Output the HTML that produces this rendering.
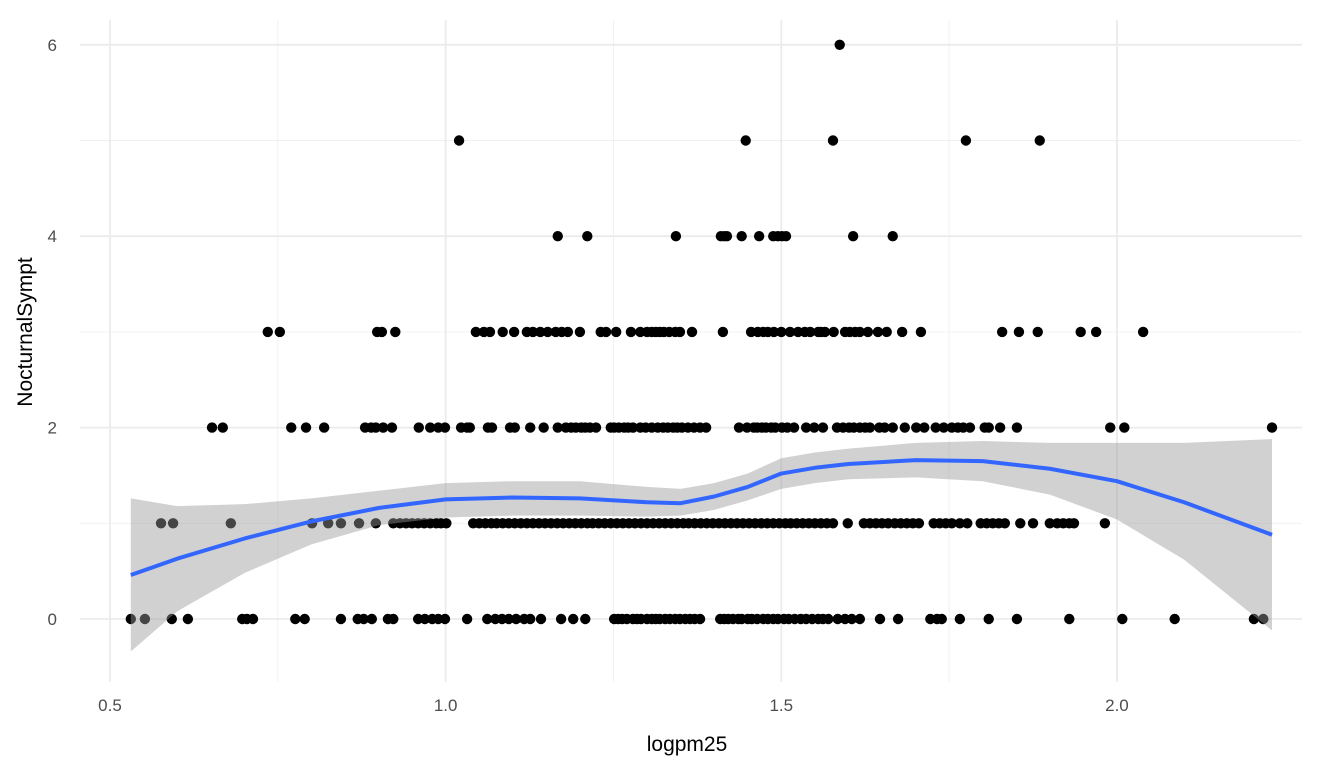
<!DOCTYPE html>
<html><head><meta charset="utf-8"><style>
body{margin:0;background:#fff}
svg{display:block;font-family:"Liberation Sans",sans-serif}
</style></head><body>
<svg id="chart" width="1344" height="768" viewBox="0 0 1344 768">
<g id="grid"></g>
<g id="pts"></g>
<g id="smooth"></g>
<g id="axes"></g>
<text x="687" y="751" font-size="21" text-anchor="middle" fill="#000">logpm25</text>
<text transform="translate(32,332) rotate(-90)" font-size="21" text-anchor="middle" fill="#000">NocturnalSympt</text>
</svg>
<script>
const xTicks=[0.5,1.0,1.5,2.0];
const xTickLabels=["0.5","1.0","1.5","2.0"];
const yTicks=[0,2,4,6];
const yTickLabels=["0","2","4","6"];
const row0=[0.531,0.552,0.592,0.616,0.697,0.704,0.713,0.776,0.790,0.844,0.869,0.878,0.890,0.914,0.922,0.959,0.969,0.980,0.989,0.999,1.032,1.062,1.074,1.084,1.094,1.105,1.117,1.126,1.142,1.172,1.190,1.208,1.251,1.257,1.263,1.270,1.279,1.285,1.291,1.300,1.307,1.313,1.319,1.327,1.334,1.342,1.349,1.357,1.364,1.371,1.379,1.409,1.415,1.421,1.428,1.436,1.441,1.450,1.456,1.464,1.473,1.480,1.488,1.495,1.504,1.511,1.520,1.529,1.537,1.546,1.555,1.562,1.570,1.584,1.595,1.605,1.617,1.647,1.674,1.722,1.732,1.739,1.766,1.809,1.851,1.929,2.008,2.086,2.204,2.218];
const row1=[0.576,0.594,0.680,0.801,0.825,0.844,0.871,0.896,0.922,0.932,0.941,0.950,0.959,0.968,0.977,0.986,0.993,1.001,1.041,1.050,1.059,1.068,1.076,1.085,1.094,1.103,1.112,1.121,1.130,1.139,1.148,1.157,1.166,1.175,1.184,1.193,1.202,1.211,1.219,1.228,1.237,1.246,1.255,1.264,1.273,1.282,1.291,1.300,1.309,1.318,1.327,1.336,1.345,1.354,1.362,1.371,1.380,1.389,1.398,1.407,1.416,1.425,1.434,1.443,1.452,1.461,1.470,1.479,1.488,1.497,1.506,1.514,1.523,1.532,1.541,1.550,1.559,1.568,1.577,1.599,1.623,1.632,1.641,1.650,1.659,1.669,1.678,1.687,1.696,1.705,1.727,1.736,1.745,1.754,1.766,1.777,1.797,1.806,1.815,1.824,1.833,1.856,1.875,1.900,1.911,1.920,1.929,1.936,1.982];
const row2=[0.652,0.668,0.770,0.792,0.819,0.880,0.889,0.896,0.907,0.920,0.960,0.977,0.989,0.999,1.023,1.032,1.036,1.063,1.069,1.096,1.103,1.126,1.146,1.167,1.179,1.187,1.194,1.202,1.208,1.215,1.224,1.246,1.251,1.258,1.266,1.272,1.279,1.290,1.298,1.307,1.316,1.324,1.331,1.339,1.345,1.352,1.361,1.370,1.379,1.388,1.437,1.449,1.459,1.464,1.471,1.477,1.485,1.491,1.501,1.509,1.519,1.537,1.549,1.562,1.583,1.592,1.601,1.608,1.617,1.625,1.632,1.646,1.654,1.666,1.684,1.701,1.713,1.730,1.742,1.754,1.763,1.771,1.781,1.803,1.809,1.826,1.851,1.990,2.011,2.231];
const row3=[0.735,0.753,0.898,0.905,0.925,1.045,1.057,1.066,1.085,1.102,1.121,1.130,1.141,1.152,1.164,1.173,1.182,1.200,1.231,1.239,1.254,1.276,1.290,1.300,1.307,1.313,1.319,1.325,1.333,1.342,1.349,1.367,1.413,1.455,1.465,1.473,1.480,1.489,1.500,1.513,1.525,1.535,1.543,1.555,1.559,1.565,1.578,1.595,1.602,1.610,1.617,1.629,1.644,1.657,1.680,1.708,1.829,1.854,1.882,1.946,1.969,2.039];
const row4=[1.167,1.211,1.343,1.410,1.415,1.419,1.441,1.467,1.488,1.495,1.501,1.507,1.607,1.666];
const row5=[1.020,1.447,1.577,1.775,1.885];
const row6=[1.587];
const rows=[row0,row1,row2,row3,row4,row5,row6];
const fitX=[0.531,0.6,0.7,0.8,0.9,1.0,1.1,1.2,1.3,1.35,1.4,1.45,1.5,1.55,1.6,1.7,1.8,1.9,2.0,2.1,2.231];
const fitY=[0.46,0.63,0.84,1.02,1.16,1.25,1.27,1.26,1.22,1.21,1.28,1.38,1.52,1.58,1.62,1.66,1.65,1.57,1.44,1.22,0.88];
const fitLo=[-0.34,0.08,0.48,0.78,0.98,1.06,1.08,1.08,1.07,1.08,1.14,1.24,1.36,1.42,1.46,1.48,1.44,1.30,1.04,0.62,-0.12];
const fitHi=[1.26,1.18,1.2,1.26,1.34,1.42,1.44,1.44,1.38,1.36,1.42,1.52,1.68,1.74,1.78,1.84,1.86,1.84,1.84,1.84,1.88];

const NS="http://www.w3.org/2000/svg";
const X=v=>110+(v-0.5)*671.3;
const Y=v=>619-v*95.7;
const L=80,R=1302,T=20,B=682;
function mk(tag,attrs,parent){const e=document.createElementNS(NS,tag);for(const k in attrs)e.setAttribute(k,attrs[k]);parent.appendChild(e);return e;}
const grid=document.getElementById('grid');
[0.75,1.25,1.75].forEach(v=>{const e=mk('line',{x1:X(v),x2:X(v),y1:T,y2:B,stroke:'#f0f0f0','stroke-width':0.9},grid);

});
[1,3,5].forEach(v=>{const e=mk('line',{x1:L,x2:R,y1:Y(v),y2:Y(v),stroke:'#f0f0f0','stroke-width':0.9},grid);

});
const axes=document.getElementById('axes');
xTicks.forEach((v,i)=>{const e=mk('line',{x1:X(v),x2:X(v),y1:T,y2:B,stroke:'#ebebeb','stroke-width':1.8},grid);


const t=mk('text',{x:X(v),y:711,'font-size':17,'text-anchor':'middle',fill:'#4d4d4d'},axes);t.textContent=xTickLabels[i];

});
yTicks.forEach((v,i)=>{const e=mk('line',{x1:L,x2:R,y1:Y(v),y2:Y(v),stroke:'#ebebeb','stroke-width':1.8},grid);


const t=mk('text',{x:57,y:Y(v)+6,'font-size':17,'text-anchor':'end',fill:'#4d4d4d'},axes);t.textContent=yTickLabels[i];

});
const pts=document.getElementById('pts');
rows.forEach((r,yv)=>r.forEach(xv=>{const c=mk('circle',{cx:X(xv),cy:Y(yv),r:5.2,fill:'#000'},pts);

}));
const sm=document.getElementById('smooth');
let d='';fitX.forEach((x,i)=>d+=(i?'L':'M')+X(x)+','+Y(fitHi[i]));
for(let i=fitX.length-1;i>=0;i--)d+='L'+X(fitX[i])+','+Y(fitLo[i]);d+='Z';
const band=mk('path',{d:d,fill:'#999','fill-opacity':0.45},sm);


let d2='';fitX.forEach((x,i)=>d2+=(i?'L':'M')+X(x)+','+Y(fitY[i]));
const line=mk('path',{d:d2,fill:'none',stroke:'#3366ff','stroke-width':4,'stroke-linejoin':'round'},sm);


</script>
</body></html>
